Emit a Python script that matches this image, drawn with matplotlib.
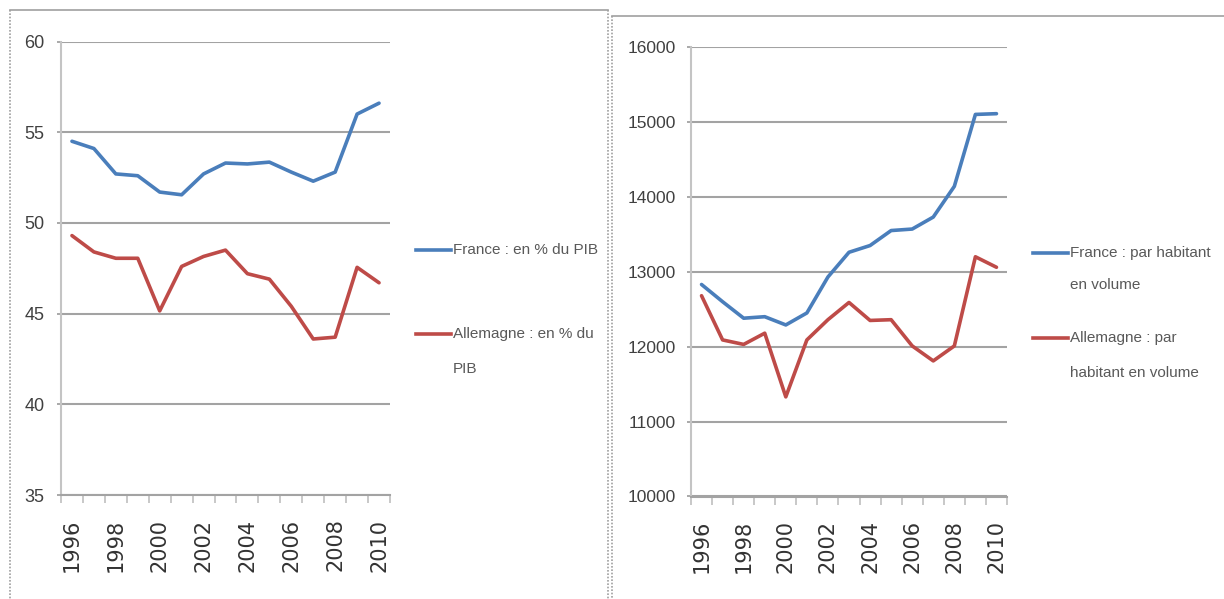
import numpy as np
import matplotlib
matplotlib.use("Agg")
import matplotlib.pyplot as plt
from matplotlib.lines import Line2D

years = list(range(1996, 2011))
year_labels = [str(y) if (y - 1996) % 2 == 0 else "" for y in years]

# left chart: depenses publiques en % du PIB
france_pib = [54.5, 54.1, 52.7, 52.6, 51.7, 51.55, 52.7, 53.3, 53.25, 53.35, 52.8, 52.3, 52.8, 56.0, 56.6]
allemagne_pib = [49.3, 48.4, 48.05, 48.05, 45.15, 47.6, 48.15, 48.5, 47.2, 46.9, 45.4, 43.6, 43.7, 47.55, 46.7]
pib_ticks = [35, 40, 45, 50, 55, 60]
pib_labels = [["France : en % du PIB"], ["Allemagne : en % du", "PIB"]]

# right chart: par habitant en volume
france_hab = [12830, 12600, 12380, 12400, 12290, 12450, 12930, 13260, 13350, 13550, 13570, 13730, 14140, 15100, 15110]
allemagne_hab = [12680, 12090, 12030, 12180, 11330, 12090, 12360, 12590, 12350, 12360, 12010, 11810, 12010, 13200, 13060]
hab_ticks = [10000, 11000, 12000, 13000, 14000, 15000, 16000]
hab_labels = [["France : par habitant", "en volume"], ["Allemagne : par", "habitant en volume"]]

BLUE = "#4A7EBB"
RED = "#BE4B48"
GRID = "#A3A3A3"
AXIS = "#C4C4C4"
TXT = "#404040"
LEG = "#595959"
NARROW = ["Liberation Sans", "DejaVu Sans"]

W, H = 1224, 599
fig = plt.figure(figsize=(W / 100, H / 100), dpi=100)
fig.patch.set_facecolor("white")


def fx(px):
    return px / W


def fy(py):
    return 1 - py / H


def draw_chart(rect, fr, al, yticks, ypad, ysize):
    ax = fig.add_axes(rect)
    x = np.arange(len(years))
    ax.plot(x, fr, color=BLUE, lw=2.6, solid_capstyle="round")
    ax.plot(x, al, color=RED, lw=2.6, solid_capstyle="round")
    ax.set_xlim(-0.5, len(years) - 0.5)
    ax.set_ylim(yticks[0], yticks[-1])
    ax.set_yticks(yticks)
    ax.set_yticklabels([str(t) for t in yticks], family=NARROW, fontsize=ysize, color=TXT)
    ax.yaxis.grid(True, color=GRID, lw=1.5)
    ax.set_axisbelow(True)
    ax.set_xticks(x)
    ax.set_xticklabels(year_labels, rotation=90, fontsize=15, color="#333333", family="DejaVu Sans")
    ax.set_xticks(np.arange(-0.5, len(years)), minor=True)
    ax.tick_params(axis="x", which="major", length=0, pad=17)
    ax.tick_params(axis="x", which="minor", length=6, width=1.3, color=AXIS, direction="out")
    ax.tick_params(axis="y", length=3, width=1.3, color=GRID, pad=ypad)
    for s in ["top", "right"]:
        ax.spines[s].set_visible(False)
    ax.spines["left"].set_color(AXIS)
    ax.spines["left"].set_linewidth(1.5)
    ax.spines["bottom"].set_color(GRID)
    ax.spines["bottom"].set_linewidth(1.5)
    return ax


draw_chart([fx(61), fy(495), fx(390) - fx(61), fy(41.5) - fy(495)],
           france_pib, allemagne_pib, pib_ticks, 9, 13)
draw_chart([fx(691), fy(496.5), fx(1007) - fx(691), fy(47) - fy(496.5)],
           france_hab, allemagne_hab, hab_ticks, 8, 12.5)


def draw_legend(x0, x1, rows, labels):
    # rows: list of (first line y, line step) in pixels
    for (y0, step), lines, col in zip(rows, labels, [BLUE, RED]):
        fig.add_artist(Line2D([fx(x0), fx(x1)], [fy(y0), fy(y0)], color=col, lw=2.6,
                              transform=fig.transFigure))
        for i, t in enumerate(lines):
            fig.text(fx(x1 + 2), fy(y0 + i * step), t, family=NARROW, fontsize=11,
                     color=LEG, va="center", ha="left")


draw_legend(416, 451, [(250, 34), (334, 35)], pib_labels)
draw_legend(1033, 1068, [(253, 32), (338, 35)], hab_labels)

# panel frames
frame = dict(color="#A0A0A0", lw=1.2, transform=fig.transFigure)
fig.add_artist(Line2D([fx(10), fx(608)], [fy(10), fy(10)], **frame))
fig.add_artist(Line2D([fx(10), fx(10)], [fy(10), fy(600)], ls=(0, (1, 1)), **frame))
fig.add_artist(Line2D([fx(608), fx(608)], [fy(10), fy(600)], ls=(0, (1, 1)), **frame))
fig.add_artist(Line2D([fx(612), fx(1224)], [fy(16), fy(16)], **frame))
fig.add_artist(Line2D([fx(612), fx(612)], [fy(16), fy(600)], ls=(0, (1, 1)), **frame))

fig.savefig("out.png", dpi=100)
